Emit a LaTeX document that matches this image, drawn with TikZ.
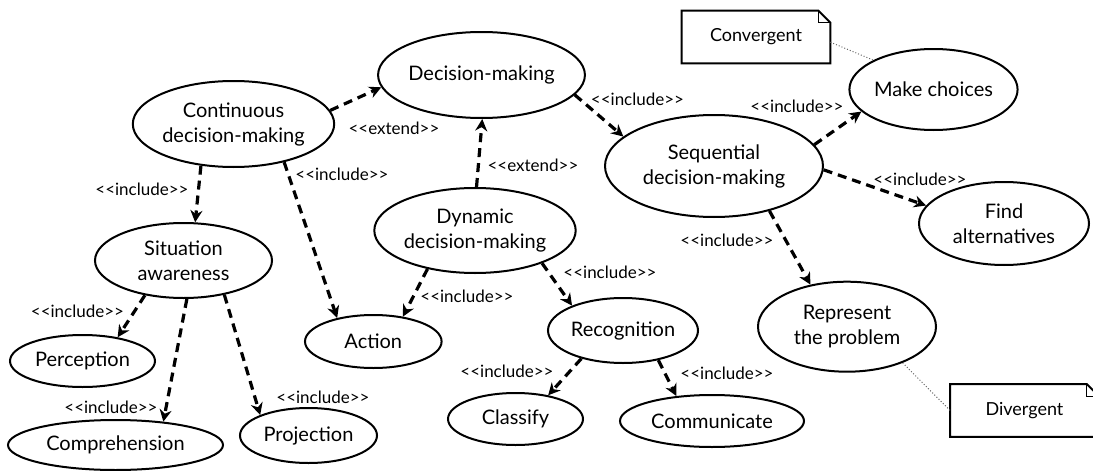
\documentclass[tikz,border=0pt]{standalone}
\usepackage{fontspec}
\setmainfont{Lato}
\usetikzlibrary{shapes.geometric,arrows.meta}

\begin{document}
\begin{tikzpicture}[x=0.5pt,y=-0.5pt]
    \useasboundingbox (0,0) rectangle (1093,471);
    %\draw[help lines] (0,0) grid[step=50] (1093,471);
    \tikzset{VertexStyle/.style = {%
        shape = ellipse,
        draw, line width = 1pt,
        inner sep = 0pt,
        align = center,
        font = \fontsize{10}{12.5}\selectfont}}
    \tikzset{EdgeStyle/.style = {%
        -{Stealth[length=6pt,width=6pt]},
        line width = 1.6pt,
        dash pattern = on 4.5pt off 3pt}}
    \tikzset{LabelStyle/.style = {inner sep=0pt, font=\fontsize{8.5}{10}\selectfont}}
    \tikzset{NoteStyle/.style = {%
        rectangle, inner sep=0pt,
        minimum width = 74pt, minimum height = 26pt,
        font = \fontsize{9}{11}\selectfont}}
    \tikzset{NoteLine/.style = {densely dotted, black!60, line width=0.5pt}}
    % use cases
    \node[VertexStyle, minimum width=98.5pt, minimum height=43pt] (cdm) at (233.5,124) {Continuous\\decision-making};
    \node[VertexStyle, minimum width=96.5pt, minimum height=43pt] (dm) at (481.5,75) {Decision-making};
    \node[VertexStyle, minimum width=109pt, minimum height=51pt] (seq) at (714,166) {Sequential\\decision-making};
    \node[VertexStyle, minimum width=81.5pt, minimum height=40.5pt] (mc) at (933.5,89.5) {Make choices};
    \node[VertexStyle, minimum width=85pt, minimum height=41.5pt] (fa) at (1004,223.5) {Find\\alternatives};
    \node[VertexStyle, minimum width=98pt, minimum height=42.5pt] (dyn) at (475,230.5) {Dynamic\\decision-making};
    \node[VertexStyle, minimum width=88.5pt, minimum height=37.5pt] (sa) at (183.5,260.5) {Situation\\awareness};
    \node[VertexStyle, minimum width=72.5pt, minimum height=26pt] (perc) at (82.5,361) {Perception};
    \node[VertexStyle, minimum width=107.5pt, minimum height=25pt] (comp) at (115.5,445) {Comprehension};
    \node[VertexStyle, minimum width=68.5pt, minimum height=27.5pt] (proj) at (308.5,435.5) {Projection};
    \node[VertexStyle, minimum width=68.3pt, minimum height=26.5pt] (act) at (373.3,341.5) {Action};
    \node[VertexStyle, minimum width=75pt, minimum height=32.5pt] (rec) at (623,330.5) {Recognition};
    \node[VertexStyle, minimum width=67.5pt, minimum height=26pt] (cls) at (515.5,419) {Classify};
    \node[VertexStyle, minimum width=92pt, minimum height=26pt] (comm) at (712,421) {Communicate};
    \node[VertexStyle, minimum width=89pt, minimum height=45pt] (rp) at (847,326.7) {Represent\\the problem};
    % notes
    \node[NoteStyle] (conv) at (756,37) {Convergent};
    \node[NoteStyle] (div) at (1024.5,410.5) {Divergent};
    \foreach \n in {conv,div}{
        \draw[line width=1pt] (\n.north west) -- ([xshift=-6pt]\n.north east)
            -- ([yshift=-6pt]\n.north east) -- (\n.south east) -- (\n.south west) -- cycle;
        \draw[line width=0.5pt] ([xshift=-6pt]\n.north east) |- ([yshift=-6pt]\n.north east);
    }
    \draw[NoteLine] (conv.-4) -- (mc.154);
    \draw[NoteLine] (rp.-33) -- (div.west);
    % relations
    \draw[EdgeStyle] (cdm.8) -- (dm.187);
    \draw[EdgeStyle] (dyn.88) -- (dm.-89);
    \draw[EdgeStyle] (dm.-12) -- (seq.162);
    \draw[EdgeStyle] (seq.12) -- (mc.197);
    \draw[EdgeStyle] (seq.-2) -- (fa.167);
    \draw[EdgeStyle] (seq.-39) -- (rp.131);
    \draw[EdgeStyle] (cdm.232) -- (sa.73);
    \draw[EdgeStyle] (cdm.-37) -- (act.147);
    \draw[EdgeStyle] (dyn.219) -- (act.40);
    \draw[EdgeStyle] (dyn.-26) -- (rec.154);
    \draw[EdgeStyle] (sa.222) -- (perc.34);
    \draw[EdgeStyle] (sa.275) -- (comp.26);
    \draw[EdgeStyle] (sa.-40) -- (proj.157);
    \draw[EdgeStyle] (rec.214) -- (cls.36);
    \draw[EdgeStyle] (rec.-40) -- (comm.145);
    % stereotypes
    \node[LabelStyle] (ext1) at (394,128) {<{}<extend>{}>};
    \node[LabelStyle] (ext2) at (533,165) {<{}<extend>{}>};
    \node[LabelStyle] (inc1) at (637.5,99) {<{}<include>{}>};
    \node[LabelStyle] (inc2) at (797,106) {<{}<include>{}>};
    \node[LabelStyle] (inc3) at (920,179) {<{}<include>{}>};
    \node[LabelStyle] (inc4) at (727,240) {<{}<include>{}>};
    \node[LabelStyle] (inc5) at (142,189) {<{}<include>{}>};
    \node[LabelStyle] (inc6) at (342,174) {<{}<include>{}>};
    \node[LabelStyle] (inc7) at (467,296) {<{}<include>{}>};
    \node[LabelStyle] (inc8) at (610,272) {<{}<include>{}>};
    \node[LabelStyle] (inc9) at (77.5,311) {<{}<include>{}>};
    \node[LabelStyle] (inc10) at (111,407) {<{}<include>{}>};
    \node[LabelStyle] (inc11) at (323,397) {<{}<include>{}>};
    \node[LabelStyle] (inc12) at (507,371) {<{}<include>{}>};
    \node[LabelStyle] (inc13) at (727,373) {<{}<include>{}>};
\end{tikzpicture}
\end{document}
